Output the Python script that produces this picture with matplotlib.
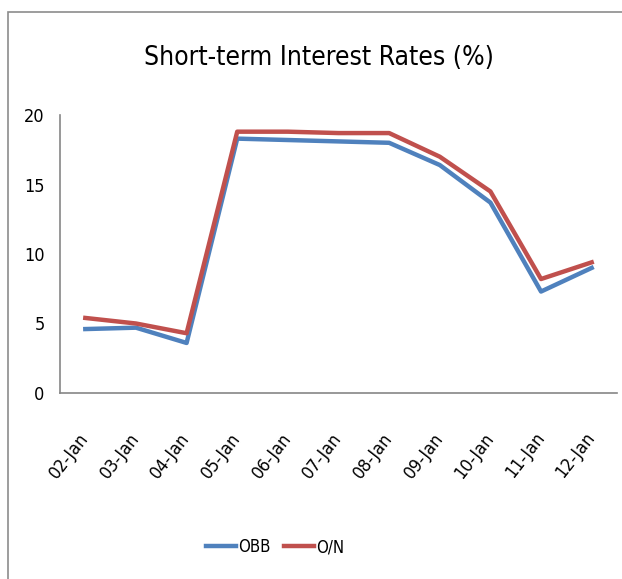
import matplotlib.pyplot as plt
from matplotlib.patches import Rectangle

dates = ['02-Jan', '03-Jan', '04-Jan', '05-Jan', '06-Jan', '07-Jan',
         '08-Jan', '09-Jan', '10-Jan', '11-Jan', '12-Jan']
obb = [4.6, 4.7, 3.6, 18.3, 18.2, 18.1, 18.0, 16.4, 13.7, 7.3, 9.0]
on = [5.4, 5.0, 4.3, 18.8, 18.8, 18.7, 18.7, 17.0, 14.5, 8.2, 9.4]

plt.rcParams['font.family'] = ['DejaVu Sans']
plt.rcParams['font.stretch'] = 'condensed'

fig = plt.figure(figsize=(6.22, 5.79), dpi=100)
ax = fig.add_axes([60 / 622, 1 - 393 / 579, 557 / 622, 278 / 579])

# outer chart border (only left and top visible in the crop)
fig.patches.append(Rectangle((8 / 622, -0.1), 1.2, 1 - 12 / 579 + 0.1,
                             transform=fig.transFigure, fill=False,
                             edgecolor='#8c8c8c', linewidth=1.2))

x = range(len(dates))
ax.plot(x, obb, color='#4f81bd', linewidth=3.2, label='OBB')
ax.plot(x, on, color='#c0504d', linewidth=3.2, label='O/N')

ax.set_xlim(-0.5, len(dates) - 0.5)
ax.set_ylim(0, 20)
ax.set_yticks([0, 5, 10, 15, 20])
ax.set_xticks(list(x))
ax.set_xticklabels(dates, rotation=52, ha='right', va='center',
                   rotation_mode='anchor')
ax.tick_params(axis='both', length=0, labelsize=13)
ax.tick_params(axis='x', pad=30)
ax.tick_params(axis='y', pad=11)

for s in ['top', 'right']:
    ax.spines[s].set_visible(False)
for s in ['left', 'bottom']:
    ax.spines[s].set_color('#868686')
    ax.spines[s].set_linewidth(1.2)

fig.text(319 / 622, 1 - 58 / 579, 'Short-term Interest Rates (%)',
         ha='center', va='center', fontsize=19)

fig.legend(loc='center', bbox_to_anchor=(275 / 622, 1 - 547 / 579), ncol=2,
           frameon=False, fontsize=12, handlelength=1.8, handletextpad=0.15,
           columnspacing=0.8)

fig.savefig('out.png', dpi=100)
